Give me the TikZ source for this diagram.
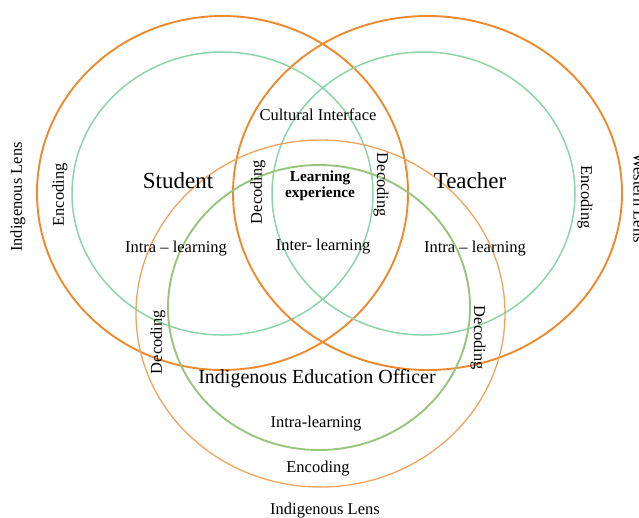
\documentclass[tikz,border=0pt]{standalone}
\usepackage{fontspec}
\setmainfont{Liberation Serif}
\definecolor{orangeA}{HTML}{EE8A2E}
\definecolor{orangeB}{HTML}{F2A35E}
\definecolor{mint}{HTML}{8DD5A8}
\definecolor{olive}{HTML}{98C47C}
\begin{document}
\begin{tikzpicture}[x=1pt,y=-1pt,
  lab/.style={inner sep=0pt,font=\fontsize{16.5}{18}\selectfont},
  big/.style={inner sep=0pt,font=\fontsize{23}{25}\selectfont},
  mid/.style={inner sep=0pt,font=\fontsize{20}{22}\selectfont},
  boldlab/.style={inner sep=0pt,align=center,font=\fontsize{15.3}{15.5}\selectfont\bfseries},
  ringO/.style={draw=orangeA,line width=1.9pt},
  ringM/.style={draw=mint,line width=1.5pt},
  ringB/.style={draw=orangeB,line width=1.3pt},
  ringG/.style={draw=olive,line width=1.9pt}]
\useasboundingbox (0,0) rectangle (639,517);
\fill[white] (0,0) rectangle (639,517);
% rings
\draw[ringO] (222.5,193) ellipse [x radius=185.5, y radius=177];
\draw[ringM] (222.5,193.5) ellipse [x radius=150.5, y radius=141.5];
\draw[ringO] (427.5,193) ellipse [x radius=194.5, y radius=177];
\draw[ringM] (423.5,193.5) ellipse [x radius=151.5, y radius=141.5];
\draw[ringB] (320.5,313.5) ellipse [x radius=184.5, y radius=173.5];
\draw[ringG] (319,307.5) ellipse [x radius=151, y radius=142.5];
% labels
\node[lab,rotate=90] (lensL) at (18,197) {Indigenous Lens};
\node[lab,rotate=90] (encL) at (60,195) {Encoding};
\node[big] (student) at (178,181) {Student};
\node[lab] (intraL) at (176,249) {Intra – learning};
\node[lab] (cult) at (318,115) {Cultural Interface};
\node[lab,rotate=90] (decL) at (258,192) {Decoding};
\node[boldlab] (learn) at (320,186) {Learning\\experience};
\node[lab,rotate=-90] (decR) at (381,185) {Decoding};
\node[lab] (inter) at (323,247) {Inter- learning};
\node[big] (teacher) at (470,181) {Teacher};
\node[lab] (intraR) at (475,249) {Intra – learning};
\node[lab,rotate=-90] (encR) at (585,197) {Encoding};
\node[lab,rotate=-90] (lensR) at (639,198) {Western Lens};
\node[lab,rotate=90] (decBL) at (158,342) {Decoding};
\node[lab,rotate=-90] (decBR) at (478,338) {Decoding};
\node[mid] (ieo) at (317,379) {Indigenous Education Officer};
\node[lab] (intraB) at (316,424) {Intra-learning};
\node[lab] (encB) at (318,469) {Encoding};
\node[lab] (lensB) at (325,511) {Indigenous Lens};
\end{tikzpicture}
\end{document}
